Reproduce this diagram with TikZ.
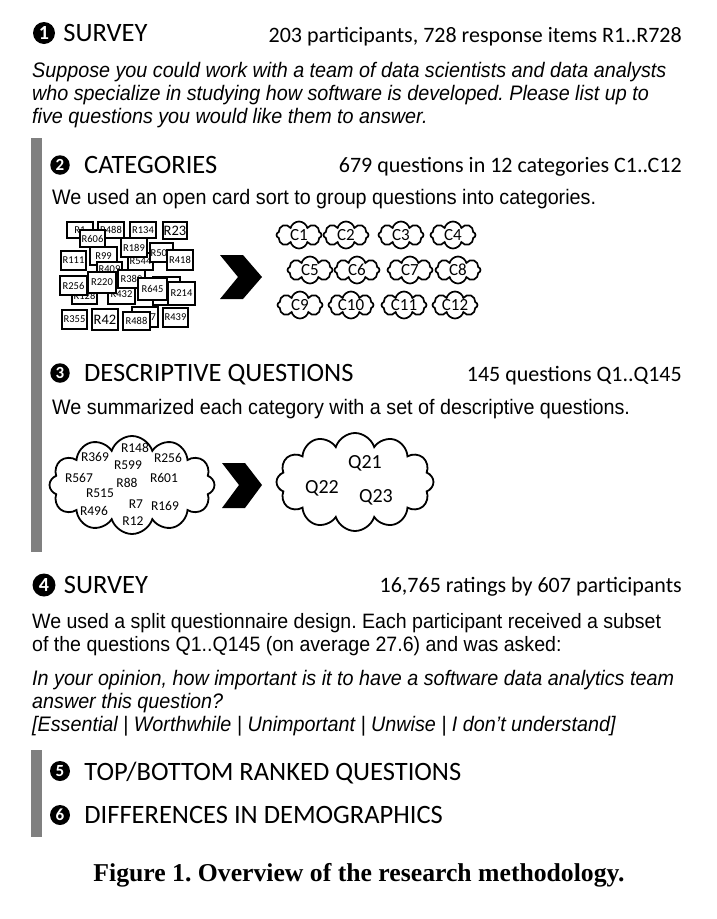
\documentclass[tikz,border=0pt]{standalone}
\usepackage{fontspec}
\setmainfont{Liberation Sans}
\newfontfamily\calfont{Carlito}
\newfontfamily\bodyfont[FakeStretch=0.94]{Liberation Sans}
\newfontfamily\capfont{Liberation Serif}
\usepackage{tikz}
\usetikzlibrary{positioning, shapes.symbols}
\definecolor{bargray}{HTML}{808080}
\frenchspacing

\begin{document}
\begin{tikzpicture}[
  x=1pt, y=-1pt,
  num/.style={circle, fill=black, inner sep=0pt, minimum size=#1,
               font=\calfont\bfseries\fontsize{17}{17}\selectfont\color{white}},
  num/.default=19.5pt,
  head/.style={anchor=west, inner sep=0pt, text depth=0pt,
               font=\calfont\fontsize{26.5}{26.5}\selectfont},
  count/.style={anchor=base east, inner sep=0pt,
               font=\calfont\fontsize{22}{22}\selectfont},
  body/.style={anchor=base west, inner sep=0pt, font=\bodyfont\fontsize{21}{21}\selectfont},
  quote/.style={body, font=\bodyfont\itshape\fontsize{21}{21}\selectfont},
  bar/.style={fill=bargray, draw=none},
  card/.style={draw, fill=white, line width=2pt, inner sep=0pt,
               minimum width=25pt, minimum height=18pt,
               font=\calfont\fontsize{10.5}{10.5}\selectfont},
  bigcard/.style={card, font=\calfont\fontsize{14.5}{14.5}\selectfont},
  cat/.style={cloud, cloud puffs=8, cloud puff arc=150, draw, line width=1.7pt,
               cloud ignores aspect, minimum width=45pt, minimum height=27pt,
               inner sep=0pt, font=\calfont\fontsize{17}{17}\selectfont},
  bigcloud/.style={cloud, cloud puffs=12, cloud puff arc=145, draw, line width=1.8pt,
               cloud ignores aspect, minimum width=165pt, minimum height=98pt, inner sep=0pt},
  item/.style={inner sep=0pt, font=\calfont\fontsize{13.5}{13.5}\selectfont},
  qitem/.style={inner sep=0pt, font=\calfont\fontsize{20}{20}\selectfont},
  chevron/.style={fill=black, draw=none}
]
  \useasboundingbox (0,0) rectangle (717,919);

  % 1 survey
  \node[num=22pt, font=\calfont\bfseries\fontsize{20}{20}\selectfont\color{white}] (n1) at (44,33) {1};
  \node[head, right=8pt of n1] (t1) {SURVEY};
  \node[count] (c1) at (682,42) {203 participants, 728 response items R1..R728};
  \node[quote] (q1) at (32,77) {Suppose you could work with a team of data scientists and data analysts};
  \node[quote] (q2) at (32,100) {who specialize in studying how software is developed. Please list up to};
  \node[quote] (q3) at (32,123) {five questions you would like them to answer.};

  \fill[bar] (31,138) rectangle (42,552);

  % 2 categories
  \node[num] (n2) at (60,165) {2};
  \node[head, right=14pt of n2] (t2) {CATEGORIES};
  \node[count] (c2) at (682,172) {679 questions in 12 categories C1..C12};
  \node[body] (b2) at (52,204) {We used an open card sort to group questions into categories.};

  % card pile
  \node[card, minimum width=26pt, minimum height=16pt] (r1) at (80,230) {R1};
  \node[card, minimum width=26pt, minimum height=16pt] (r488a) at (111,230) {R488};
  \node[card, minimum width=26pt, minimum height=16pt] (r134) at (143,230) {R134};
  \node[bigcard, minimum width=24pt, minimum height=17pt] (r23) at (175,230.5) {R23};
  \node[card, minimum height=17pt] (r606) at (92.5,238.5) {R606};
  \node[card, minimum height=19pt] (r111) at (73.5,260.5) {R111};
  \node[card, minimum width=27pt] (r99) at (103.5,256) {R99};
  \node[card, minimum height=17pt] (r544) at (140.5,261.5) {R544};
  \node[card, minimum width=23pt, minimum height=19pt] (r506) at (161.5,252.5) {R506};
  \node[card, minimum width=26pt, minimum height=19pt] (r189) at (134,247.5) {R189};
  \node[card, minimum width=26pt, minimum height=20pt] (r418) at (180,260) {R418};
  \node[card, minimum height=15pt] (r409) at (109.5,269.5) {R409};
  \node[card, minimum height=17pt] (r128) at (84.5,295.5) {R128};
  \node[card, minimum width=27pt, minimum height=19pt] (r432) at (121.5,294.5) {R432};
  \node[card, minimum width=27pt] (r380) at (131.5,279) {R380};
  \node[card, minimum width=27pt, minimum height=19pt] (r256) at (73.5,285.5) {R256};
  \node[card, minimum width=28pt, minimum height=21pt] (r220) at (102,282.5) {R220};
  \node[card, minimum width=27pt, minimum height=28pt] (rback) at (166.5,291) {};
  \node[card, minimum width=29pt, minimum height=22pt] (r645) at (152.5,289) {R645};
  \node[card, minimum width=27pt, minimum height=23pt] (r214) at (181.5,293.5) {R214};
  \node[card, minimum height=19pt] (r355) at (74.5,319.5) {R355};
  \node[bigcard, minimum width=26pt, minimum height=21pt] (r42) at (105,319.5) {R42};
  \node[card, minimum width=26pt, minimum height=20pt, text width=22pt, align=right] (r7) at (145,317) {7};
  \node[card, minimum width=27pt] (r488b) at (136.5,321) {R488};
  \node[card, minimum height=19pt] (r439) at (175.5,317.5) {R439};

  \fill[chevron] (220,255) -- (243,255) -- (262,277) -- (243,299) -- (220,299) -- (238,277) -- cycle;

  % categories as clouds
  \node[cat] (k1) at (299,235) {C1};
  \node[cat] (k2) at (346,235) {C2};
  \node[cat] (k3) at (401,235) {C3};
  \node[cat] (k4) at (453,235) {C4};
  \node[cat] (k5) at (310,270) {C5};
  \node[cat] (k6) at (357,270) {C6};
  \node[cat] (k7) at (410,270) {C7};
  \node[cat] (k8) at (458,270) {C8};
  \node[cat] (k9) at (300,305) {C9};
  \node[cat] (k10) at (351,305) {C10};
  \node[cat] (k11) at (404,305) {C11};
  \node[cat] (k12) at (455,305) {C12};

  % 3 descriptive questions
  \node[num] (n3) at (60,373) {3};
  \node[head, right=14pt of n3] (t3) {DESCRIPTIVE QUESTIONS};
  \node[count] (c3) at (682,381) {145 questions Q1..Q145};
  \node[body] (b3) at (52,414) {We summarized each category with a set of descriptive questions.};

  \node[bigcloud] (resp) at (132,485) {};
  \node[item] at (135,448) {R148};
  \node[item] at (95,457) {R369};
  \node[item] at (168,458) {R256};
  \node[item] at (128,465) {R599};
  \node[item] at (79,478) {R567};
  \node[item] at (127,483) {R88};
  \node[item] at (164,478) {R601};
  \node[item] at (100,493) {R515};
  \node[item] at (136,504) {R7};
  \node[item] at (165,506) {R169};
  \node[item] at (94,511) {R496};
  \node[item] at (133,521) {R12};

  \fill[chevron] (222,463) -- (245,463) -- (262,485) -- (245,508) -- (222,508) -- (239,485) -- cycle;

  \node[bigcloud, minimum width=157pt] (quest) at (355,482) {};
  \node[qitem] at (365,463) {Q21};
  \node[qitem] at (322,488) {Q22};
  \node[qitem] at (376,497) {Q23};

  % 4 survey
  \node[num=23pt, font=\calfont\bfseries\fontsize{20}{20}\selectfont\color{white}] (n4) at (44,585) {4};
  \node[head, right=8pt of n4] (t4) {SURVEY};
  \node[count] (c4) at (682,592) {16,765 ratings by 607 participants};
  \node[body, font=\bodyfont\fontsize{20.8}{20.8}\selectfont] (b4a) at (32,628) {We used a split questionnaire design. Each participant received a subset};
  \node[body, font=\bodyfont\fontsize{20.8}{20.8}\selectfont] (b4b) at (32,651) {of the questions Q1..Q145 (on average 27.6) and was asked:};
  \node[quote] (q4a) at (32,685) {In your opinion, how important is it to have a software data analytics team};
  \node[quote] (q4b) at (32,708) {answer this question?};
  \node[quote] (q4c) at (32,731) {[Essential | Worthwhile | Unimportant | Unwise | I don’t understand]};

  \fill[bar] (31,750) rectangle (42,837);

  % 5 and 6
  \node[num=20pt] (n5) at (60,771) {5};
  \node[head, right=14pt of n5] (t5) {TOP/BOTTOM RANKED QUESTIONS};
  \node[num=20pt] (n6) at (60,815) {6};
  \node[head, right=14pt of n6] (t6) {DIFFERENCES IN DEMOGRAPHICS};

  \node[anchor=base, font=\capfont\bfseries\fontsize{25.7}{25.7}\selectfont] (fig) at (359,881)
    {Figure 1. Overview of the research methodology.};
\end{tikzpicture}
\end{document}
